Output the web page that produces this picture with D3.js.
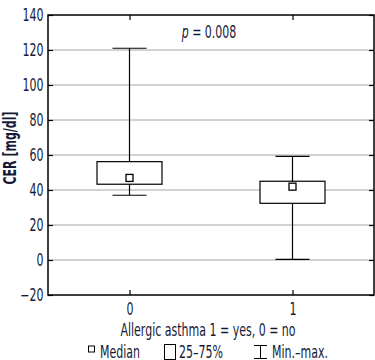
<!DOCTYPE html>
<html>
<head>
<meta charset="utf-8">
<script src="https://cdn.jsdelivr.net/npm/d3@7"></script>
<style>
  body { margin: 0; background: #fff; }
  svg text { font-family: "DejaVu Sans Condensed", "DejaVu Sans", sans-serif; font-stretch: condensed; fill: #161a36; }
</style>
</head>
<body>
<svg id="chart" width="375" height="360" viewBox="0 0 375 360"></svg>
<script>
// data
const groups = [0, 1];
const mins = [37, 0.4];
const q1 = [43.3, 32.4];
const medians = [46.9, 41.9];
const q3 = [56.2, 45];
const maxs = [121, 59.2];
const y_ticks = [-20, 0, 20, 40, 60, 80, 100, 120, 140];
const p_label = "0.008";

const svg = d3.select('#chart');
const margin = { left: 48, top: 15, right: 374, bottom: 295 };
const squeeze = 0.72; // the original font is a narrow one
const font_size = 17;

const x_scale = d3.scaleLinear()
    .domain([-0.5, 1.5])
    .range([margin.left, margin.right]);

const y_scale = d3.scaleLinear()
    .domain([-20, 140])
    .range([margin.bottom, margin.top]);

// narrow text placed at x, y
function label(parent, x, y, txt, anchor) {
    return parent.append("text")
        .attr("transform", "translate(" + x + "," + y + ") scale(" + squeeze + ",1)")
        .attr("text-anchor", anchor || "start")
        .attr("font-size", font_size)
        .text(txt);
}

// grid
svg.append("g")
    .selectAll("line")
    .data(y_ticks.filter(d => d > -20 && d < 140))
    .enter().append("line")
    .attr("x1", margin.left)
    .attr("x2", margin.right)
    .attr("y1", d => y_scale(d))
    .attr("y2", d => y_scale(d))
    .attr("stroke", "#a6a6a6")
    .attr("stroke-width", 1);

// axes, ticks inward
const tick_len = 5;
svg.append("g")
    .attr("transform", "translate(" + margin.left + ",0)")
    .call(d3.axisLeft(y_scale).tickValues(y_ticks).tickSize(-tick_len).tickFormat(d => d < 0 ? "\u2212" + Math.abs(d) : d))
    .call(g => g.select(".domain").remove())
    .selectAll("text")
    .attr("font-size", font_size)
    .attr("x", -4.5 / squeeze)
    .attr("transform", "scale(" + squeeze + ",1)");

svg.append("g")
    .attr("transform", "translate(" + margin.right + ",0)")
    .call(d3.axisRight(y_scale).tickValues(y_ticks).tickSize(-tick_len).tickFormat(""))
    .call(g => g.select(".domain").remove());

svg.append("g")
    .attr("transform", "translate(0," + margin.bottom + ")")
    .call(d3.axisBottom(x_scale).tickValues(groups).tickSize(-tick_len).tickFormat(d3.format("d")))
    .call(g => g.select(".domain").remove())
    .selectAll("text")
    .attr("font-size", font_size)
    .attr("y", 20)
    .attr("dy", null)
    .attr("transform", "scale(" + squeeze + ",1)");

svg.append("g")
    .attr("transform", "translate(0," + margin.top + ")")
    .call(d3.axisTop(x_scale).tickValues(groups).tickSize(-tick_len).tickFormat(""))
    .call(g => g.select(".domain").remove());

svg.selectAll(".tick line").attr("stroke", "#000").attr("stroke-width", 1.2);

// frame
svg.append("rect")
    .attr("x", margin.left)
    .attr("y", margin.top)
    .attr("width", margin.right - margin.left)
    .attr("height", margin.bottom - margin.top)
    .attr("fill", "none")
    .attr("stroke", "#000")
    .attr("stroke-width", 1.5);

// boxes
const box_w = 65;
const cap_w = 34;
const boxes = svg.append("g")
    .selectAll("g")
    .data(groups)
    .enter().append("g");

boxes.append("line")
    .attr("x1", d => x_scale(d))
    .attr("x2", d => x_scale(d))
    .attr("y1", (d, i) => y_scale(maxs[i]))
    .attr("y2", (d, i) => y_scale(mins[i]))
    .attr("stroke", "#000").attr("stroke-width", 1.2);

boxes.append("line")
    .attr("x1", d => x_scale(d) - cap_w / 2)
    .attr("x2", d => x_scale(d) + cap_w / 2)
    .attr("y1", (d, i) => y_scale(maxs[i]))
    .attr("y2", (d, i) => y_scale(maxs[i]))
    .attr("stroke", "#000").attr("stroke-width", 1.2);

boxes.append("line")
    .attr("x1", d => x_scale(d) - cap_w / 2)
    .attr("x2", d => x_scale(d) + cap_w / 2)
    .attr("y1", (d, i) => y_scale(mins[i]))
    .attr("y2", (d, i) => y_scale(mins[i]))
    .attr("stroke", "#000").attr("stroke-width", 1.2);

boxes.append("rect")
    .attr("x", d => x_scale(d) - box_w / 2)
    .attr("y", (d, i) => y_scale(q3[i]))
    .attr("width", box_w)
    .attr("height", (d, i) => y_scale(q1[i]) - y_scale(q3[i]))
    .attr("fill", "#fff")
    .attr("stroke", "#000").attr("stroke-width", 1.2);

boxes.append("rect")
    .attr("x", d => x_scale(d) - 3.5)
    .attr("y", (d, i) => y_scale(medians[i]) - 3.5)
    .attr("width", 7)
    .attr("height", 7)
    .attr("fill", "#fff")
    .attr("stroke", "#000").attr("stroke-width", 1.3);

// p value
const p_text = label(svg, 209, 38, null, "middle");
p_text.append("tspan").attr("font-style", "italic").text("p");
p_text.append("tspan").text(" = " + p_label);

// axis titles
svg.append("text")
    .attr("transform", "translate(16,148) rotate(-90) scale(" + squeeze + ",1)")
    .attr("text-anchor", "middle")
    .attr("font-size", font_size)
    .attr("font-weight", "bold")
    .text("CER [mg/dl]");

label(svg, 208, 336, "Allergic asthma 1 = yes, 0 = no", "middle");

// legend
const legend = svg.append("g");
legend.append("rect")
    .attr("x", 88.5).attr("y", 346).attr("width", 6).attr("height", 6)
    .attr("fill", "#fff").attr("stroke", "#000").attr("stroke-width", 1);
label(legend, 100, 358, "Median");

legend.append("rect")
    .attr("x", 164.5).attr("y", 344.5).attr("width", 11).attr("height", 15)
    .attr("fill", "#fff").attr("stroke", "#000").attr("stroke-width", 1);
label(legend, 179, 358, "25\u201375%");

legend.append("path")
    .attr("d", "M254,345.5H267M260.5,345.5V358.5M254,358.5H267")
    .attr("fill", "none").attr("stroke", "#000").attr("stroke-width", 1);
label(legend, 272, 358, "Min.\u2013max.");
</script>
</body>
</html>
